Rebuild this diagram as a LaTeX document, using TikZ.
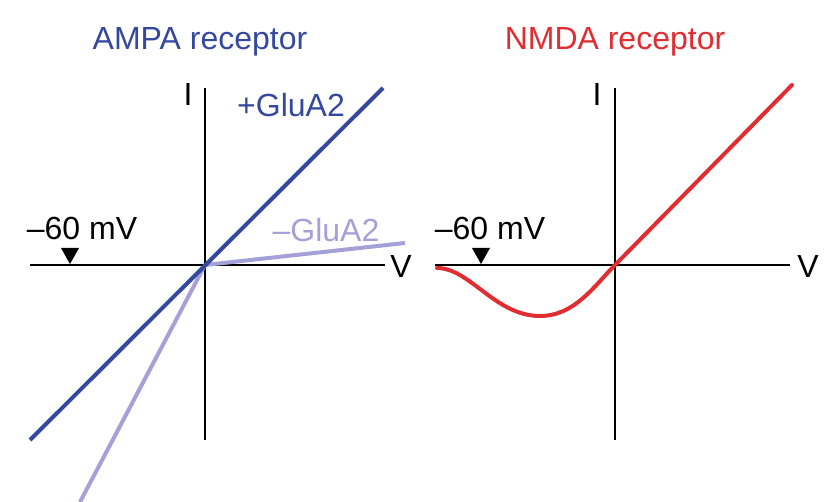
\documentclass[tikz,border=0pt]{standalone}
\usepackage{fontspec}
\setmainfont{Liberation Sans}
\definecolor{ampa}{RGB}{52,72,160}
\definecolor{lav}{RGB}{165,160,215}
\definecolor{nmda}{RGB}{225,45,50}
\begin{document}
\begin{tikzpicture}[x=1pt,y=-1pt,
  ax/.style={line width=2pt,black},
  lbl/.style={font=\fontsize{32}{36}\selectfont,inner sep=0pt},
  mk/.style={fill=black,draw=none}]
\useasboundingbox (0,0) rectangle (830,502);
% left panel
\node[lbl,text=ampa] (t1) at (200,42) {AMPA receptor};
\coordinate (o1) at (205,265);
\draw[ax] (205,88) -- (205,440);
\draw[ax] (30,265) -- (385,265);
\node[lbl] (v1) at (401,266) {V};
\node[lbl] (i1) at (188,94) {I};
\draw[line width=4pt,lav] (80,502) -- (o1) -- (405,243);
\draw[line width=4pt,ampa] (30,440) -- (383,88);
\node[lbl,text=ampa] (g1) at (291,105) {+GluA2};
\node[lbl,text=lav] (g2) at (326,230) {–GluA2};
\node[lbl] (m1) at (82,228) {–60 mV};
\fill[mk] (61,248) -- (79,248) -- (70,264) -- cycle;
% right panel
\node[lbl,text=nmda] (t2) at (615,42) {NMDA receptor};
\coordinate (o2) at (615,265);
\draw[ax] (615,88) -- (615,440);
\draw[ax] (435,265) -- (790,265);
\node[lbl] (v2) at (808,266) {V};
\node[lbl] (i2) at (597,94) {I};
\draw[line width=4pt,nmda,line cap=round] (437,268) .. controls (470,268) and (495,316) .. (540,316)
  .. controls (575,316) and (595,285) .. (o2) -- (792,85);
\node[lbl] (m2) at (490,228) {–60 mV};
\fill[mk] (472,248) -- (490,248) -- (481,264) -- cycle;
\end{tikzpicture}
\end{document}
